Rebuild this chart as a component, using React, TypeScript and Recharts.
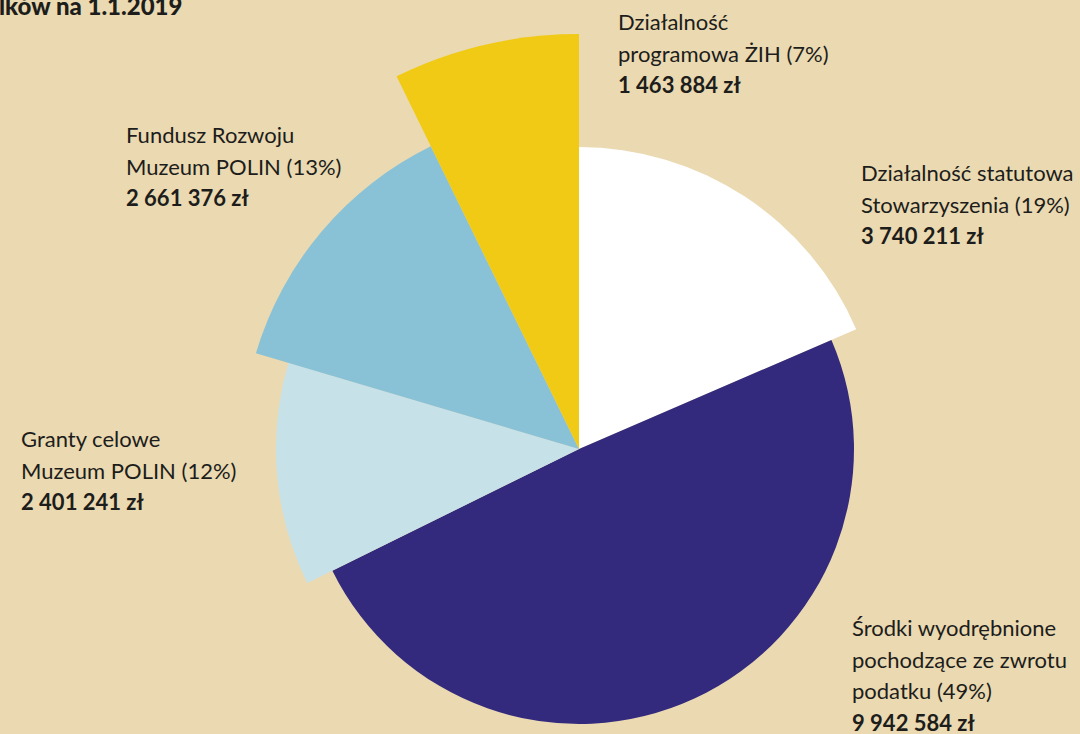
import { PieChart, Pie, Cell } from 'recharts';

const names = [
  ['Działalność statutowa', 'Stowarzyszenia (19%)'],
  ['Środki wyodrębnione', 'pochodzące ze zwrotu', 'podatku (49%)'],
  ['Granty celowe', 'Muzeum POLIN (12%)'],
  ['Fundusz Rozwoju', 'Muzeum POLIN (13%)'],
  ['Działalność', 'programowa ŻIH (7%)'],
];
const amounts = [3740211, 9942584, 2401241, 2661376, 1463884];
const amountLabels = ['3 740 211 zł', '9 942 584 zł', '2 401 241 zł', '2 661 376 zł', '1 463 884 zł'];

const COLORS = ['#FFFFFF', '#332A7D', '#C7E1E9', '#89C2D6', '#F0CA15'];
const RADII = [302, 275, 303, 337, 415];
// top-left baseline of each label block
const LABEL_POS = [
  [861, 181],
  [852, 636],
  [21, 447],
  [126, 143],
  [618, 30],
];

const data = names.map((n, i) => ({ name: n.join(' '), value: amounts[i] }));

const renderLabel = ({ index }: any) => {
  const [x, y] = LABEL_POS[index];
  const lines = names[index];
  return (
    <text x={x} y={y} fill="#1d1d1b" fontFamily="Lato, sans-serif" fontSize={22} textAnchor="start">
      {lines.map((l, i) => (
        <tspan key={i} x={x} dy={i === 0 ? 0 : 31.5}>{l}</tspan>
      ))}
      <tspan x={x} dy={31.5} fontWeight="bold">{amountLabels[index]}</tspan>
    </text>
  );
};

const App = () => {
  return (
    <div style={{ position: 'absolute', left: 0, top: 0, width: 1080, height: 734, background: '#EAD9B1', overflow: 'hidden' }}>
      <PieChart width={1080} height={734} margin={{ top: 0, right: 0, bottom: 0, left: 0 }}>
        {RADII.map((r, k) => (
          <Pie
            key={k}
            data={data}
            dataKey="value"
            cx={579}
            cy={449}
            innerRadius={0}
            outerRadius={r}
            startAngle={90}
            endAngle={-270}
            stroke="none"
            isAnimationActive={false}
            label={k === 0 ? renderLabel : false}
            labelLine={false}
          >
            {data.map((_, i) => (
              <Cell key={`cell-${i}`} fill={i === k ? COLORS[i] : 'transparent'} />
            ))}
          </Pie>
        ))}
      </PieChart>
      <div style={{ position: 'absolute', left: -1, top: -9, fontFamily: 'Lato, sans-serif', fontWeight: 900, fontSize: 24, color: '#1d1d1b', whiteSpace: 'nowrap' }}>
        lków na 1.1.2019
      </div>
    </div>
  );
};

export default App;
